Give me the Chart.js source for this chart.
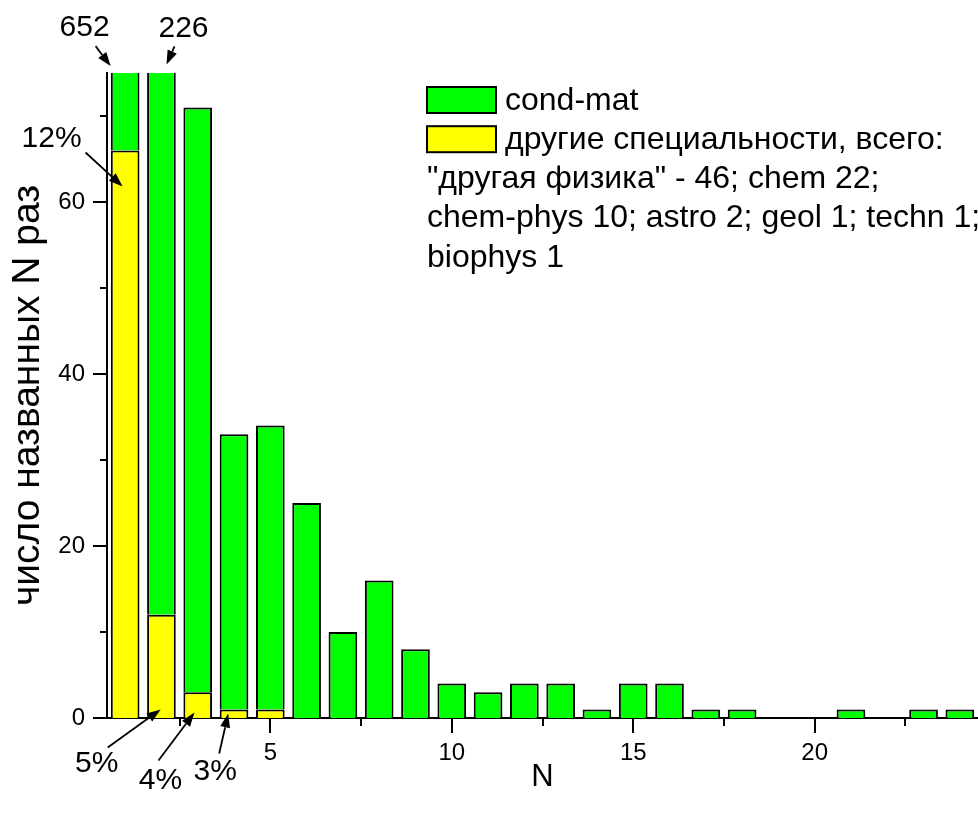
<!DOCTYPE html>
<html>
<head>
<meta charset="utf-8">
<script src="https://cdn.jsdelivr.net/npm/chart.js@4/dist/chart.umd.min.js"></script>
<style>
html,body{margin:0;padding:0;background:#fff;}
canvas{display:block;}
</style>
</head>
<body>
<canvas id="c" width="978" height="813"></canvas>
<script>
// ---- data ----
const nValues       = [1,2,3,4,5,6,7,8,9,10,11,12,13,14,15,16,17,18,19,20,21,22,23,24];
const condMatCounts = [586,214,68,32,33,25,10,16,8,4,3,4,4,1,4,4,1,1,0,0,1,0,1,1];
const otherCounts   = [66,12,3,1,1,0,0,0,0,0,0,0,0,0,0,0,0,0,0,0,0,0,0,0];
const xMajorTicks   = [5,10,15,20];
const xMinorTicks   = [2.5,7.5,12.5,17.5,22.5];
const yMajorTicks   = [0,20,40,60];
const yMinorTicks   = [10,30,50,70];
const condMatLabel  = 'cond-mat';
const otherLabel    = 'другие специальности, всего:';
const legendExtra   = ['"другая физика" - 46; chem 22;', 'chem-phys 10; astro 2; geol 1; techn 1;', 'biophys 1'];
const xTitle = 'N';
const yTitle = 'число названных N раз';

// annotation texts anchored at data points (tip), with pixel offsets for tail and label
const notes = [
  {text:'652', tip:[0.6, 75.8],  tail:[-15,-20], label:[-26,-38]},
  {text:'226', tip:[2.14, 76.0], tail:[8,-18],   label:[17,-36]},
  {text:'12%', tip:[0.93, 61.8], tail:[-37,-34], label:[-71,-48]},
  {text:'5%',  tip:[1.98, 1.0],  tail:[-53,38],  label:[-64,54]},
  {text:'4%',  tip:[2.91, 0.64], tail:[-36,48],  label:[-34,68]},
  {text:'3%',  tip:[3.84, 0.52], tail:[-9,40],   label:[-13,58]}
];

const FONT = '"Liberation Sans", Arial, sans-serif';
const GREEN = '#00ff00', YELLOW = '#ffff00';

const toXY = arr => arr.map((v,i) => ({x: nValues[i], y: v}));

const extras = {
  id: 'extras',
  afterDraw(chart) {
    const ctx = chart.ctx;
    const xs = chart.scales.x, ys = chart.scales.y;
    const ca = chart.chartArea;
    ctx.save();
    ctx.strokeStyle = '#000';
    ctx.lineWidth = 2;
    const tick = (x1,y1,x2,y2) => { ctx.beginPath(); ctx.moveTo(x1,y1); ctx.lineTo(x2,y2); ctx.stroke(); };
    xMajorTicks.forEach(v => { const p = Math.round(xs.getPixelForValue(v)); tick(p, ca.bottom, p, ca.bottom + 15); });
    xMinorTicks.forEach(v => { const p = Math.round(xs.getPixelForValue(v)); tick(p, ca.bottom, p, ca.bottom + 8); });
    yMajorTicks.forEach(v => { const p = Math.round(ys.getPixelForValue(v)); tick(ca.left, p, ca.left - 14, p); });
    yMinorTicks.forEach(v => { const p = Math.round(ys.getPixelForValue(v)); tick(ca.left, p, ca.left - 7, p); });

    ctx.fillStyle = '#000';
    ctx.font = '30px ' + FONT;
    ctx.textAlign = 'center';
    ctx.textBaseline = 'middle';
    notes.forEach(n => {
      const tx = xs.getPixelForValue(n.tip[0]), ty = ys.getPixelForValue(n.tip[1]);
      const sx = tx + n.tail[0], sy = ty + n.tail[1];
      ctx.lineWidth = 1.8;
      const ang = Math.atan2(ty - sy, tx - sx);
      const L = 14, W = 5;
      const bx = tx - L*Math.cos(ang), by = ty - L*Math.sin(ang);
      ctx.beginPath(); ctx.moveTo(sx, sy); ctx.lineTo(bx, by); ctx.stroke();
      ctx.beginPath();
      ctx.moveTo(tx, ty);
      ctx.lineTo(bx + W*Math.sin(ang), by - W*Math.cos(ang));
      ctx.lineTo(bx - W*Math.sin(ang), by + W*Math.cos(ang));
      ctx.closePath(); ctx.fill();
      ctx.fillText(n.text, tx + n.label[0], ty + n.label[1]);
    });

    const ds = chart.data.datasets;
    const items = [ds[1], ds[0]];
    const lx = 427, ly = 100, lh = 39.2;
    ctx.font = '32px ' + FONT;
    ctx.textAlign = 'left';
    items.forEach((d, i) => {
      const cy = ly + i*lh;
      ctx.fillStyle = d.backgroundColor;
      ctx.fillRect(lx, cy - 13, 69, 26);
      ctx.lineWidth = 2;
      ctx.strokeStyle = '#000';
      ctx.strokeRect(lx, cy - 13, 69, 26);
      ctx.fillStyle = '#000';
      ctx.fillText(d.label, lx + 78, cy + 1);
    });
    legendExtra.forEach((t, i) => {
      ctx.fillText(t, lx, ly + (i+2)*lh + 1);
    });
    ctx.restore();
  }
};

new Chart(document.getElementById('c'), {
  type: 'bar',
  data: {
    datasets: [
      {label: otherLabel, data: toXY(otherCounts), backgroundColor: YELLOW, borderColor: '#000', borderWidth: 2, clip: 0},
      {label: condMatLabel, data: toXY(condMatCounts), backgroundColor: GREEN, borderColor: '#000', borderWidth: 2, clip: 0}
    ]
  },
  options: {
    responsive: false,
    animation: false,
    devicePixelRatio: 1,
    layout: {padding: {left: 0, top: 73, right: 0, bottom: 0}},
    datasets: {bar: {barPercentage: 0.79, categoryPercentage: 1}},
    plugins: {legend: {display: false}, tooltip: {enabled: false}},
    scales: {
      x: {
        type: 'linear', stacked: true, min: 0.5, max: 24.5, offset: false,
        grid: {display: false, drawTicks: false},
        border: {display: true, color: '#000', width: 2},
        afterBuildTicks: s => { s.ticks = xMajorTicks.map(v => ({value: v})); },
        afterFit: s => { s.height = 95; },
        ticks: {padding: 21, color: '#000', font: {family: FONT, size: 24}, maxRotation: 0, autoSkip: false},
        title: {display: true, text: xTitle, color: '#000', font: {family: FONT, size: 31}, padding: {top: 0, bottom: 17}}
      },
      y: {
        stacked: true, min: 0, max: 75,
        grid: {display: false, drawTicks: false},
        border: {display: true, color: '#000', width: 2},
        afterBuildTicks: s => { s.ticks = yMajorTicks.map(v => ({value: v})); },
        afterFit: s => { s.width = 107; },
        ticks: {padding: 22, color: '#000', font: {family: FONT, size: 24}},
        title: {display: true, text: yTitle, color: '#000', font: {family: FONT, size: 39}, padding: {top: 5, bottom: 0}}
      }
    }
  },
  plugins: [extras]
});
</script>
</body>
</html>
